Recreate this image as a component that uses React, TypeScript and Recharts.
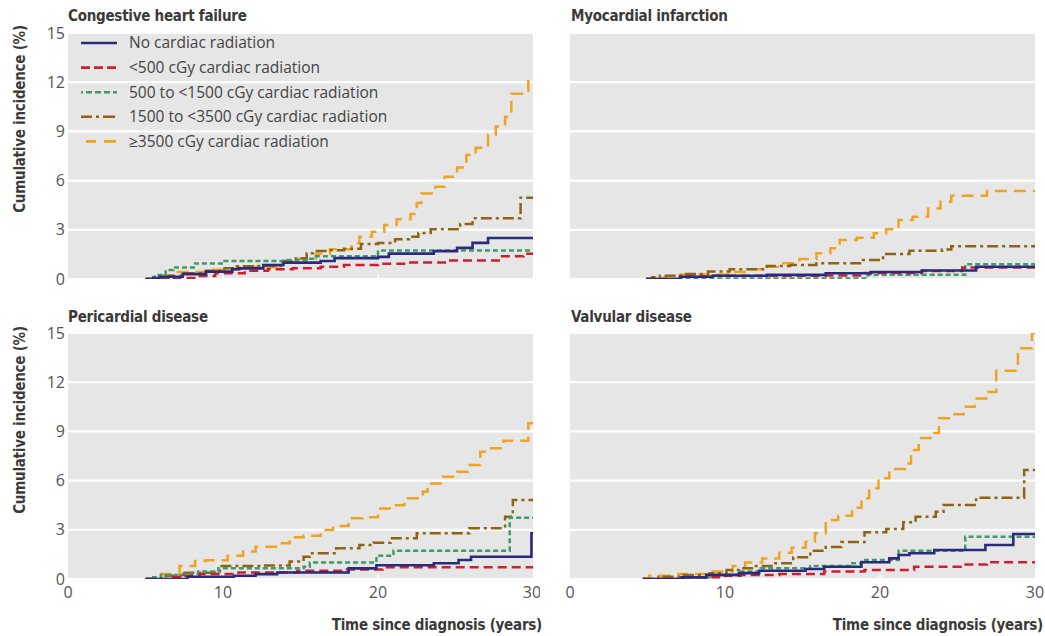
import React from 'react';
import { LineChart, Line, XAxis, YAxis, CartesianGrid, ReferenceLine, Legend } from 'recharts';

type Pt = [number, number];

// ---------- axis ticks ----------
const X_TICKS = [0, 10, 20, 30];
const Y_TICKS = [0, 3, 6, 9, 12, 15];

// ---------- series labels ----------
const SERIES_NAMES = [
  'No cardiac radiation',
  '<500 cGy cardiac radiation',
  '500 to <1500 cGy cardiac radiation',
  '1500 to <3500 cGy cardiac radiation',
  '≥3500 cGy cardiac radiation',
];
const PANEL_TITLES = ['Congestive heart failure', 'Myocardial infarction', 'Pericardial disease', 'Valvular disease'];

// ---------- Congestive heart failure ----------
const chfNone: Pt[] = [[5, 0], [5.5, 0.06], [5.9, 0.14], [7.4, 0.3], [8.9, 0.45], [10.6, 0.6], [11, 0.65], [12.6, 0.85], [13.9, 1.0], [16.3, 1.1], [17.2, 1.27], [20, 1.35], [20.7, 1.55], [23.6, 1.7], [25.1, 1.9], [26.1, 2.2], [27.1, 2.5], [30, 2.5]];
const chfLow: Pt[] = [[5, 0], [6.5, 0.06], [8.4, 0.18], [9.5, 0.35], [11.4, 0.5], [12.9, 0.6], [14.5, 0.65], [16.3, 0.75], [17.8, 0.85], [20, 0.93], [22, 1.0], [24.5, 1.13], [28, 1.38], [29.4, 1.54], [30, 1.54]];
const chfMid: Pt[] = [[5, 0], [5.3, 0.1], [5.6, 0.25], [6.3, 0.55], [6.8, 0.7], [8.2, 0.95], [10.1, 1.1], [14, 1.16], [15.5, 1.24], [16, 1.38], [20, 1.74], [30, 1.74]];
const chfHigh: Pt[] = [[5, 0], [6, 0.06], [6.5, 0.2], [7.5, 0.35], [8.9, 0.5], [10.1, 0.65], [10.9, 0.77], [12.2, 0.8], [13.9, 1.1], [14.7, 1.27], [15.4, 1.57], [15.8, 1.7], [16.7, 1.75], [17.8, 1.85], [18.9, 2.13], [20, 2.2], [21.1, 2.43], [22, 2.58], [22.6, 2.8], [23.4, 3.03], [25.3, 3.35], [26.1, 3.7], [29.2, 4.96], [30, 4.96]];
const chfTop: Pt[] = [[5, 0], [5.8, 0.22], [6.7, 0.43], [8.9, 0.57], [11.1, 0.73], [13.8, 1.03], [14.7, 1.24], [16, 1.54], [16.9, 1.82], [18.3, 2.18], [18.8, 2.58], [19.6, 2.88], [20.4, 3.3], [21.2, 3.64], [22.1, 3.96], [22.5, 4.63], [22.8, 5.22], [23.7, 5.63], [24.3, 6.24], [25.1, 6.8], [25.7, 7.56], [26.3, 8.0], [27.1, 8.8], [27.6, 9.3], [28.2, 9.9], [28.6, 11.3], [29.7, 12.24], [30, 12.24]];

// ---------- Myocardial infarction ----------
const miNone: Pt[] = [[4.9, 0], [7.1, 0.14], [9.2, 0.2], [12.7, 0.25], [16.5, 0.35], [19.4, 0.43], [22.7, 0.52], [26.2, 0.75], [30, 0.75]];
const miLow: Pt[] = [[4.9, 0], [7.1, 0.15], [9.2, 0.2], [16.5, 0.22], [19, 0.37], [22.7, 0.49], [25.3, 0.7], [30, 0.7]];
const miMid: Pt[] = [[4.9, 0], [7.3, 0.03], [19.2, 0.26], [25.5, 0.9], [30, 0.9]];
const miHigh: Pt[] = [[4.9, 0], [5.3, 0.1], [5.8, 0.2], [7.5, 0.3], [8.9, 0.45], [10.3, 0.59], [12.7, 0.8], [14.2, 0.85], [15.9, 0.96], [18.9, 1.16], [20.2, 1.52], [21.9, 1.73], [24, 1.8], [24.6, 2.0], [30, 2.0]];
const miTop: Pt[] = [[4.9, 0], [5.5, 0.1], [6.2, 0.18], [7.1, 0.28], [10.5, 0.43], [11.6, 0.59], [12.7, 0.75], [13.6, 0.96], [14.8, 1.22], [15.9, 1.57], [16.8, 1.87], [17.4, 2.38], [18.5, 2.52], [19.6, 2.79], [20.4, 3.03], [21.2, 3.6], [22.1, 3.8], [23.1, 4.3], [23.9, 4.71], [24.6, 5.08], [26.9, 5.37], [30, 5.37]];

// ---------- Pericardial disease ----------
const perNone: Pt[] = [[5, 0], [7.7, 0.14], [10.7, 0.2], [12.1, 0.3], [13.5, 0.4], [18.1, 0.65], [19.9, 0.84], [23.6, 0.96], [25.2, 1.16], [26, 1.36], [29.9, 2.79], [30, 2.79]];
const perLow: Pt[] = [[5, 0], [6.5, 0.1], [7.5, 0.2], [8.5, 0.3], [11, 0.4], [14.8, 0.5], [18, 0.58], [20.3, 0.72], [30, 0.72]];
const perMid: Pt[] = [[5, 0], [5.5, 0.1], [6, 0.24], [7.4, 0.3], [8.4, 0.45], [9.7, 0.65], [15.2, 0.75], [15.6, 1.0], [19.9, 1.42], [21, 1.73], [28.5, 3.74], [30, 3.74]];
const perHigh: Pt[] = [[5, 0], [6, 0.2], [7.4, 0.38], [9.8, 0.8], [12.6, 0.83], [14.3, 1.06], [15.2, 1.36], [15.6, 1.57], [17.3, 1.87], [18.8, 2.07], [19.7, 2.21], [20.8, 2.48], [22.5, 2.79], [25.9, 3.09], [28.2, 3.8], [28.7, 4.82], [30, 4.82]];
const perTop: Pt[] = [[5, 0], [6, 0.3], [7.2, 0.8], [8.2, 1.1], [8.9, 1.15], [10.3, 1.42], [11.3, 1.67], [12.1, 1.97], [13.8, 2.18], [14.3, 2.54], [15.2, 2.64], [16.3, 2.99], [17.1, 3.23], [18.1, 3.7], [19, 3.76], [20, 4.3], [20.9, 4.5], [21.7, 4.92], [22.9, 5.33], [23.2, 5.83], [24.2, 6.24], [25.1, 6.54], [25.8, 6.95], [26.6, 7.76], [27.2, 7.97], [28.1, 8.43], [29.7, 9.5], [30, 9.5]];

// ---------- Valvular disease ----------
const valNone: Pt[] = [[4.7, 0], [7.2, 0.1], [8.8, 0.25], [10.9, 0.36], [12.2, 0.5], [15.2, 0.61], [16.4, 0.75], [18.8, 1.02], [20.6, 1.26], [21.2, 1.46], [21.9, 1.57], [23.5, 1.77], [26.8, 2.07], [28.6, 2.74], [30, 2.74]];
const valLow: Pt[] = [[4.7, 0], [7, 0.1], [10, 0.2], [11, 0.25], [13.5, 0.3], [16.4, 0.45], [19, 0.55], [22.2, 0.75], [25.2, 0.88], [26.9, 1.02], [30, 1.02]];
const valMid: Pt[] = [[4.7, 0], [7, 0.1], [9, 0.25], [11, 0.45], [12.3, 0.65], [15.5, 0.8], [18.1, 0.96], [18.8, 1.16], [21.2, 1.73], [25.5, 2.58], [30, 2.58]];
const valHigh: Pt[] = [[4.7, 0], [5.7, 0.14], [7.3, 0.24], [9, 0.35], [10.1, 0.55], [11, 0.65], [11.9, 0.8], [13.1, 0.96], [14.4, 1.32], [15.5, 1.72], [16.5, 1.95], [17.5, 2.25], [19, 2.85], [20.4, 3.05], [21.5, 3.46], [22.3, 3.8], [23.6, 4.1], [24.1, 4.51], [26.2, 4.96], [29.3, 6.65], [30, 6.65]];
const valTop: Pt[] = [[4.7, 0], [5.1, 0.2], [7, 0.3], [8.75, 0.45], [10.5, 0.8], [11.3, 1.0], [12.4, 1.25], [13.5, 1.6], [14.3, 1.9], [15.2, 2.27], [15.8, 2.79], [16.5, 3.6], [17.3, 3.86], [18.2, 4.35], [18.8, 4.92], [19.3, 5.53], [19.9, 6.14], [20.6, 6.7], [21.6, 7.05], [22, 7.87], [22.5, 8.6], [23.5, 8.9], [23.8, 9.8], [24.6, 10.04], [25.4, 10.5], [26.1, 11.0], [27, 11.4], [27.5, 12.7], [28.9, 14.07], [29.8, 15.0], [30, 15.0]];

// ---------- styles ----------
const COLORS = ['#2b2a7c', '#cf1f2e', '#3f9b6b', '#8d6411', '#f0a321'];
const DASHES = ['', '9 5', '5 3', '11 4 3 4', '12 7'];
const LEGEND_DASHES = ['', '9 4', '2 3 6 3 6 3 6 3 6', '11 4 3 4 12', '10 8 12'];
const WIDTHS = [2.6, 2.5, 2.5, 2.5, 2.5];
const DRAW_ORDER = [4, 3, 2, 1, 0];

const REG = "'Open Sans', 'DejaVu Sans', sans-serif";
const BOLD = "'DejaVu Sans Condensed', 'DejaVu Sans', sans-serif";
const TEXT = '#444';
const TITLE = '#3a3a3a';
const TICK = '#555';

const toData = (pts: Pt[]) => pts.map(([t, v]) => ({ t, v }));

const LegendBox = () => (
  <svg width={330} height={125} style={{ display: 'block' }}>
    {SERIES_NAMES.map((name, i) => {
      const y = 12 + i * 24.6;
      return (
        <g key={name}>
          <line x1={i === 4 ? 11 : 6} x2={42} y1={y} y2={y} stroke={COLORS[i]} strokeWidth={2.6}
            strokeDasharray={LEGEND_DASHES[i] || undefined} />
          <text x={54} y={y} dy="0.35em" fontSize={15.5} fill={TEXT} fontFamily={REG}>{name}</text>
        </g>
      );
    })}
  </svg>
);

type PanelProps = {
  series: Pt[][];
  left: number;
  top: number;
  width: number;
  height: number;
  marginLeft: number;
  marginRight: number;
  marginBottom: number;
  showX: boolean;
  showY: boolean;
  legend?: boolean;
};

function Panel({ series, left, top, width, height, marginLeft, marginRight, marginBottom, showX, showY, legend }: PanelProps) {
  return (
    <div style={{ position: 'absolute', left, top, width, height }}>
      <LineChart width={width} height={height}
        margin={{ top: 33, right: marginRight, bottom: marginBottom, left: marginLeft }}>
        <CartesianGrid fill="#e6e6e6" stroke="#ffffff" strokeWidth={2.2} vertical={false} />
        <XAxis type="number" dataKey="t" domain={[0, 30]} ticks={X_TICKS} hide={!showX} height={21}
          axisLine={false} tickLine={false} tickSize={0} tickMargin={8} allowDataOverflow
          tick={{ fill: TICK, fontSize: 16, fontFamily: REG }} />
        <YAxis type="number" domain={[0, 15]} ticks={Y_TICKS} hide={!showY} width={68}
          axisLine={false} tickLine={false} tickSize={0} tickMargin={3} allowDataOverflow
          tick={{ fill: TICK, fontSize: 16, fontFamily: REG }} />
        {[10, 20].map((x) => (
          <ReferenceLine key={x} segment={[{ x, y: 0 }, { x, y: 0.28 }]} stroke="#ffffff" strokeWidth={1.6} />
        ))}
        {DRAW_ORDER.map((i) => (
          <Line key={i} data={toData(series[i])} dataKey="v" name={SERIES_NAMES[i]} type="stepAfter"
            stroke={COLORS[i]} strokeWidth={WIDTHS[i]} strokeDasharray={DASHES[i] || undefined}
            dot={false} activeDot={false} isAnimationActive={false} />
        ))}
        {legend && (
          <Legend layout="vertical" align="center" verticalAlign="middle" content={() => <LegendBox />}
            wrapperStyle={{ position: 'absolute', left: 75, top: 31, width: 330, height: 125 }} />
        )}
      </LineChart>
    </div>
  );
}

const PANELS: Pt[][][] = [
  [chfNone, chfLow, chfMid, chfHigh, chfTop],
  [miNone, miLow, miMid, miHigh, miTop],
  [perNone, perLow, perMid, perHigh, perTop],
  [valNone, valLow, valMid, valHigh, valTop],
];

export default function App() {
  return (
    <div style={{ position: 'relative', width: 1045, height: 636, background: '#fff', overflow: 'hidden' }}>
      <style>{'body{margin:0;}'}</style>
      <Panel series={PANELS[0]} left={0} top={0} width={540} height={300} marginLeft={0} marginRight={7}
        marginBottom={21} showX={false} showY legend />
      <Panel series={PANELS[1]} left={540} top={0} width={505} height={300} marginLeft={30} marginRight={10}
        marginBottom={21} showX={false} showY={false} />
      <Panel series={PANELS[2]} left={0} top={300} width={540} height={336} marginLeft={0} marginRight={7}
        marginBottom={36} showX showY />
      <Panel series={PANELS[3]} left={540} top={300} width={505} height={336} marginLeft={30} marginRight={10}
        marginBottom={36} showX showY={false} />
      <svg width={1045} height={636} style={{ position: 'absolute', left: 0, top: 0, pointerEvents: 'none' }}>
        <g fontFamily={BOLD} fontWeight="bold" fill={TITLE} fontSize={15} letterSpacing={-0.25}>
          <text x={68} y={21}>{PANEL_TITLES[0]}</text>
          <text x={571} y={21}>{PANEL_TITLES[1]}</text>
          <text x={68} y={322}>{PANEL_TITLES[2]}</text>
          <text x={571} y={322}>{PANEL_TITLES[3]}</text>
          <text x={25} y={119} textAnchor="middle" transform="rotate(-90 25 119)">Cumulative incidence (%)</text>
          <text x={25} y={420} textAnchor="middle" transform="rotate(-90 25 420)">Cumulative incidence (%)</text>
          <text x={542} y={630} textAnchor="end">Time since diagnosis (years)</text>
          <text x={1043} y={630} textAnchor="end">Time since diagnosis (years)</text>
        </g>
      </svg>
    </div>
  );
}
